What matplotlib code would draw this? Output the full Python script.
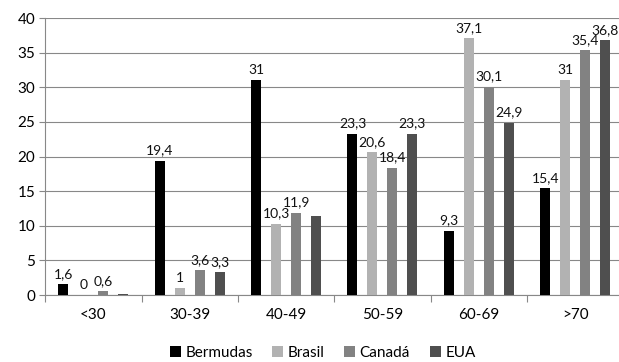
import numpy as np
import matplotlib.pyplot as plt

plt.rcParams['font.family'] = ['Lato', 'DejaVu Sans']

categories = ['<30', '30-39', '40-49', '50-59', '60-69', '>70']
series = ['Bermudas', 'Brasil', 'Canadá', 'EUA']
bermudas = [1.6, 19.4, 31, 23.3, 9.3, 15.4]
brasil = [0, 1, 10.3, 20.6, 37.1, 31]
canada = [0.6, 3.6, 11.9, 18.4, 30.1, 35.4]
eua = [0.2, 3.3, 11.4, 23.3, 24.9, 36.8]
# which bars carry a value label
labelled = [
    [True] * 6,
    [True] * 6,
    [True] * 6,
    [False, True, False, True, True, True],
]
colors = ['#000000', '#b2b2b2', '#828282', '#4f4f4f']

fig = plt.figure(figsize=(6.19, 3.62), dpi=100)
ax = fig.add_axes([0.073, 0.185, 0.934, 0.765])

x = np.arange(len(categories))
offsets = [-0.311, -0.104, 0.104, 0.311]
width = 0.104

for vals, name, col, off, lab in zip([bermudas, brasil, canada, eua], series,
                                      colors, offsets, labelled):
    bars = ax.bar(x + off, vals, width, color=col, label=name, zorder=3)
    for b, v, show in zip(bars, vals, lab):
        if not show:
            continue
        txt = f'{v:g}'.replace('.', ',')
        ax.annotate(txt, (b.get_x() + b.get_width() / 2, v),
                    xytext=(0, 3), textcoords='offset points',
                    ha='center', va='bottom', fontsize=10, color='#111111')

ax.set_xlim(-0.5, len(categories) - 0.5)
ax.set_ylim(0, 40)
ax.set_yticks(range(0, 41, 5))
ax.set_xticks(x)
ax.set_xticklabels(categories)
ax.set_xticks(np.arange(-0.5, len(categories), 1), minor=True)
ax.tick_params(axis='x', which='major', length=0, pad=9, labelsize=11)
ax.tick_params(axis='x', which='minor', length=5, color='#888888', width=0.8)
ax.tick_params(axis='y', length=4, color='#888888', width=0.8, labelsize=11, pad=3)

ax.grid(axis='y', color='#888888', linewidth=0.8, zorder=0)
for s in ['top', 'right']:
    ax.spines[s].set_visible(False)
for s in ['left', 'bottom']:
    ax.spines[s].set_color('#888888')
    ax.spines[s].set_linewidth(0.8)

ax.legend(loc='upper center', bbox_to_anchor=(0.48, -0.135), ncol=4,
          frameon=False, fontsize=11, handlelength=0.7, handleheight=0.7,
          handletextpad=0.3, columnspacing=1.3)

fig.savefig('out.png', dpi=100)
